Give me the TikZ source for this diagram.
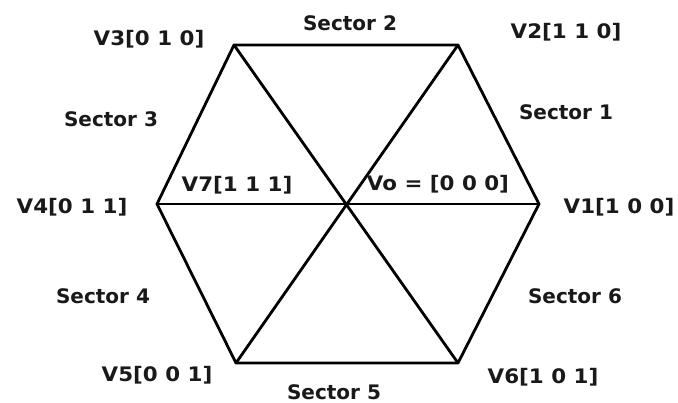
\documentclass[tikz,border=0pt]{standalone}
\usepackage{fontspec}
\setmainfont{DejaVu Sans}
\begin{document}
\begin{tikzpicture}[x=1pt,y=1pt,
  edge/.style={line width=2.8pt,line join=round,line cap=round},
  lbl/.style={font=\fontsize{20}{24}\selectfont\bfseries,inner sep=0pt,text=black!90},
  vlbl/.style={lbl,xscale=1.07,transform shape}]
\useasboundingbox (0,0) rectangle (678,-403);
% vertices
\coordinate (v1) at (539,-204);
\coordinate (v2) at (458,-45);
\coordinate (v3) at (234,-45);
\coordinate (v4) at (157,-204);
\coordinate (v5) at (236,-363);
\coordinate (v6) at (458,-363);
\coordinate (c) at (347,-204);
% hexagon and diagonals
\draw[edge] (v1) -- (v2) -- (v3) -- (v4) -- (v5) -- (v6) -- cycle;
\draw[edge] (v1) -- (v4);
\draw[edge] (v2) -- (v5);
\draw[edge] (v3) -- (v6);
% labels
\node[vlbl] (l3) at (149,-39) {V3[0 1 0]};
\node[lbl] (s2) at (350,-23) {Sector 2};
\node[vlbl] (l2) at (566,-32) {V2[1 1 0]};
\node[lbl] (s3) at (111,-119) {Sector 3};
\node[lbl] (s1) at (566,-112) {Sector 1};
\node[vlbl] (l7) at (237,-185) {V7[1 1 1]};
\node[vlbl] (l0) at (438,-184) {Vo = [0 0 0]};
\node[vlbl] (l4) at (72,-207) {V4[0 1 1]};
\node[vlbl] (l1) at (619,-207) {V1[1 0 0]};
\node[lbl] (s4) at (103,-296) {Sector 4};
\node[lbl] (s6) at (575,-296) {Sector 6};
\node[vlbl] (l5) at (157,-375) {V5[0 0 1]};
\node[lbl] (s5) at (334,-392) {Sector 5};
\node[vlbl] (l6) at (543,-377) {V6[1 0 1]};
\end{tikzpicture}
\end{document}
